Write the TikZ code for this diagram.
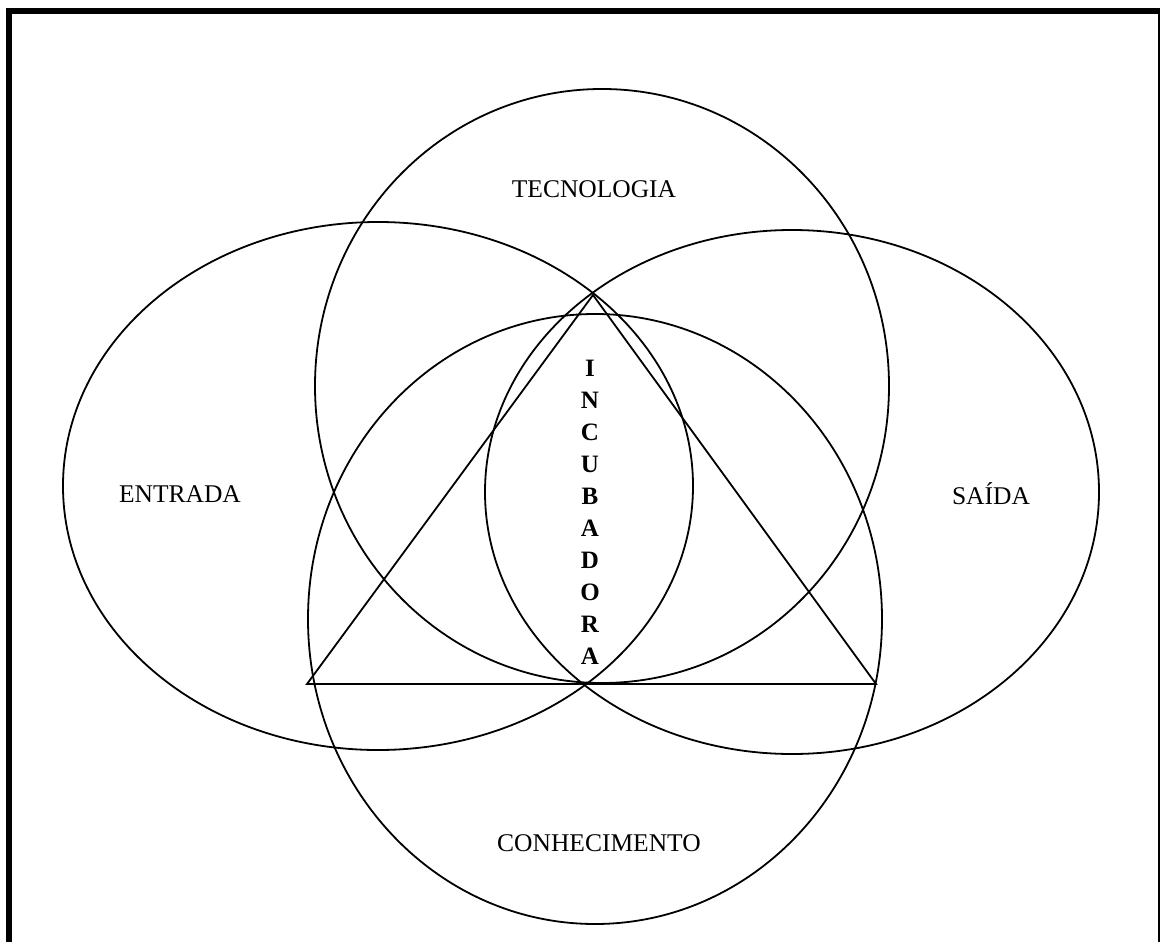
\documentclass[tikz,border=0pt]{standalone}
\usepackage{fontspec}
\setmainfont{Liberation Serif}
\begin{document}
\begin{tikzpicture}[x=1pt,y=-1pt,
  ring/.style={draw=black,line width=1.8pt},
  lbl/.style={font=\fontsize{25.5}{30}\selectfont,inner sep=0pt},
  vlbl/.style={font=\fontsize{25}{32}\selectfont\bfseries,align=center,inner sep=0pt}]
\useasboundingbox (0,0) rectangle (1160,942);
\fill[white] (0,0) rectangle (1160,942);
% frame
\draw[line width=6pt] (9,945) -- (9,11) -- (1161,11) -- (1161,945);
% sets
\draw[ring] (602,386) ellipse [x radius=287,y radius=297];
\draw[ring] (378,486) ellipse [x radius=315,y radius=264];
\draw[ring] (792,492) ellipse [x radius=307,y radius=262];
\draw[ring] (595,619) ellipse [x radius=287,y radius=305];
% triangle
\coordinate (apex) at (593,295);
\coordinate (bl) at (307,684);
\coordinate (br) at (876,684);
\draw[ring,line join=miter] (apex) -- (br) -- (bl) -- cycle;
% labels
\node[lbl] (tec) at (594,189) {TECNOLOGIA};
\node[lbl] (ent) at (180,494) {ENTRADA};
\node[lbl] (sai) at (991,494) {SAÍDA};
\node[lbl] (con) at (599,843) {CONHECIMENTO};
\node[vlbl] (inc) at (590,512) {I\\N\\C\\U\\B\\A\\D\\O\\R\\A};
\end{tikzpicture}
\end{document}
